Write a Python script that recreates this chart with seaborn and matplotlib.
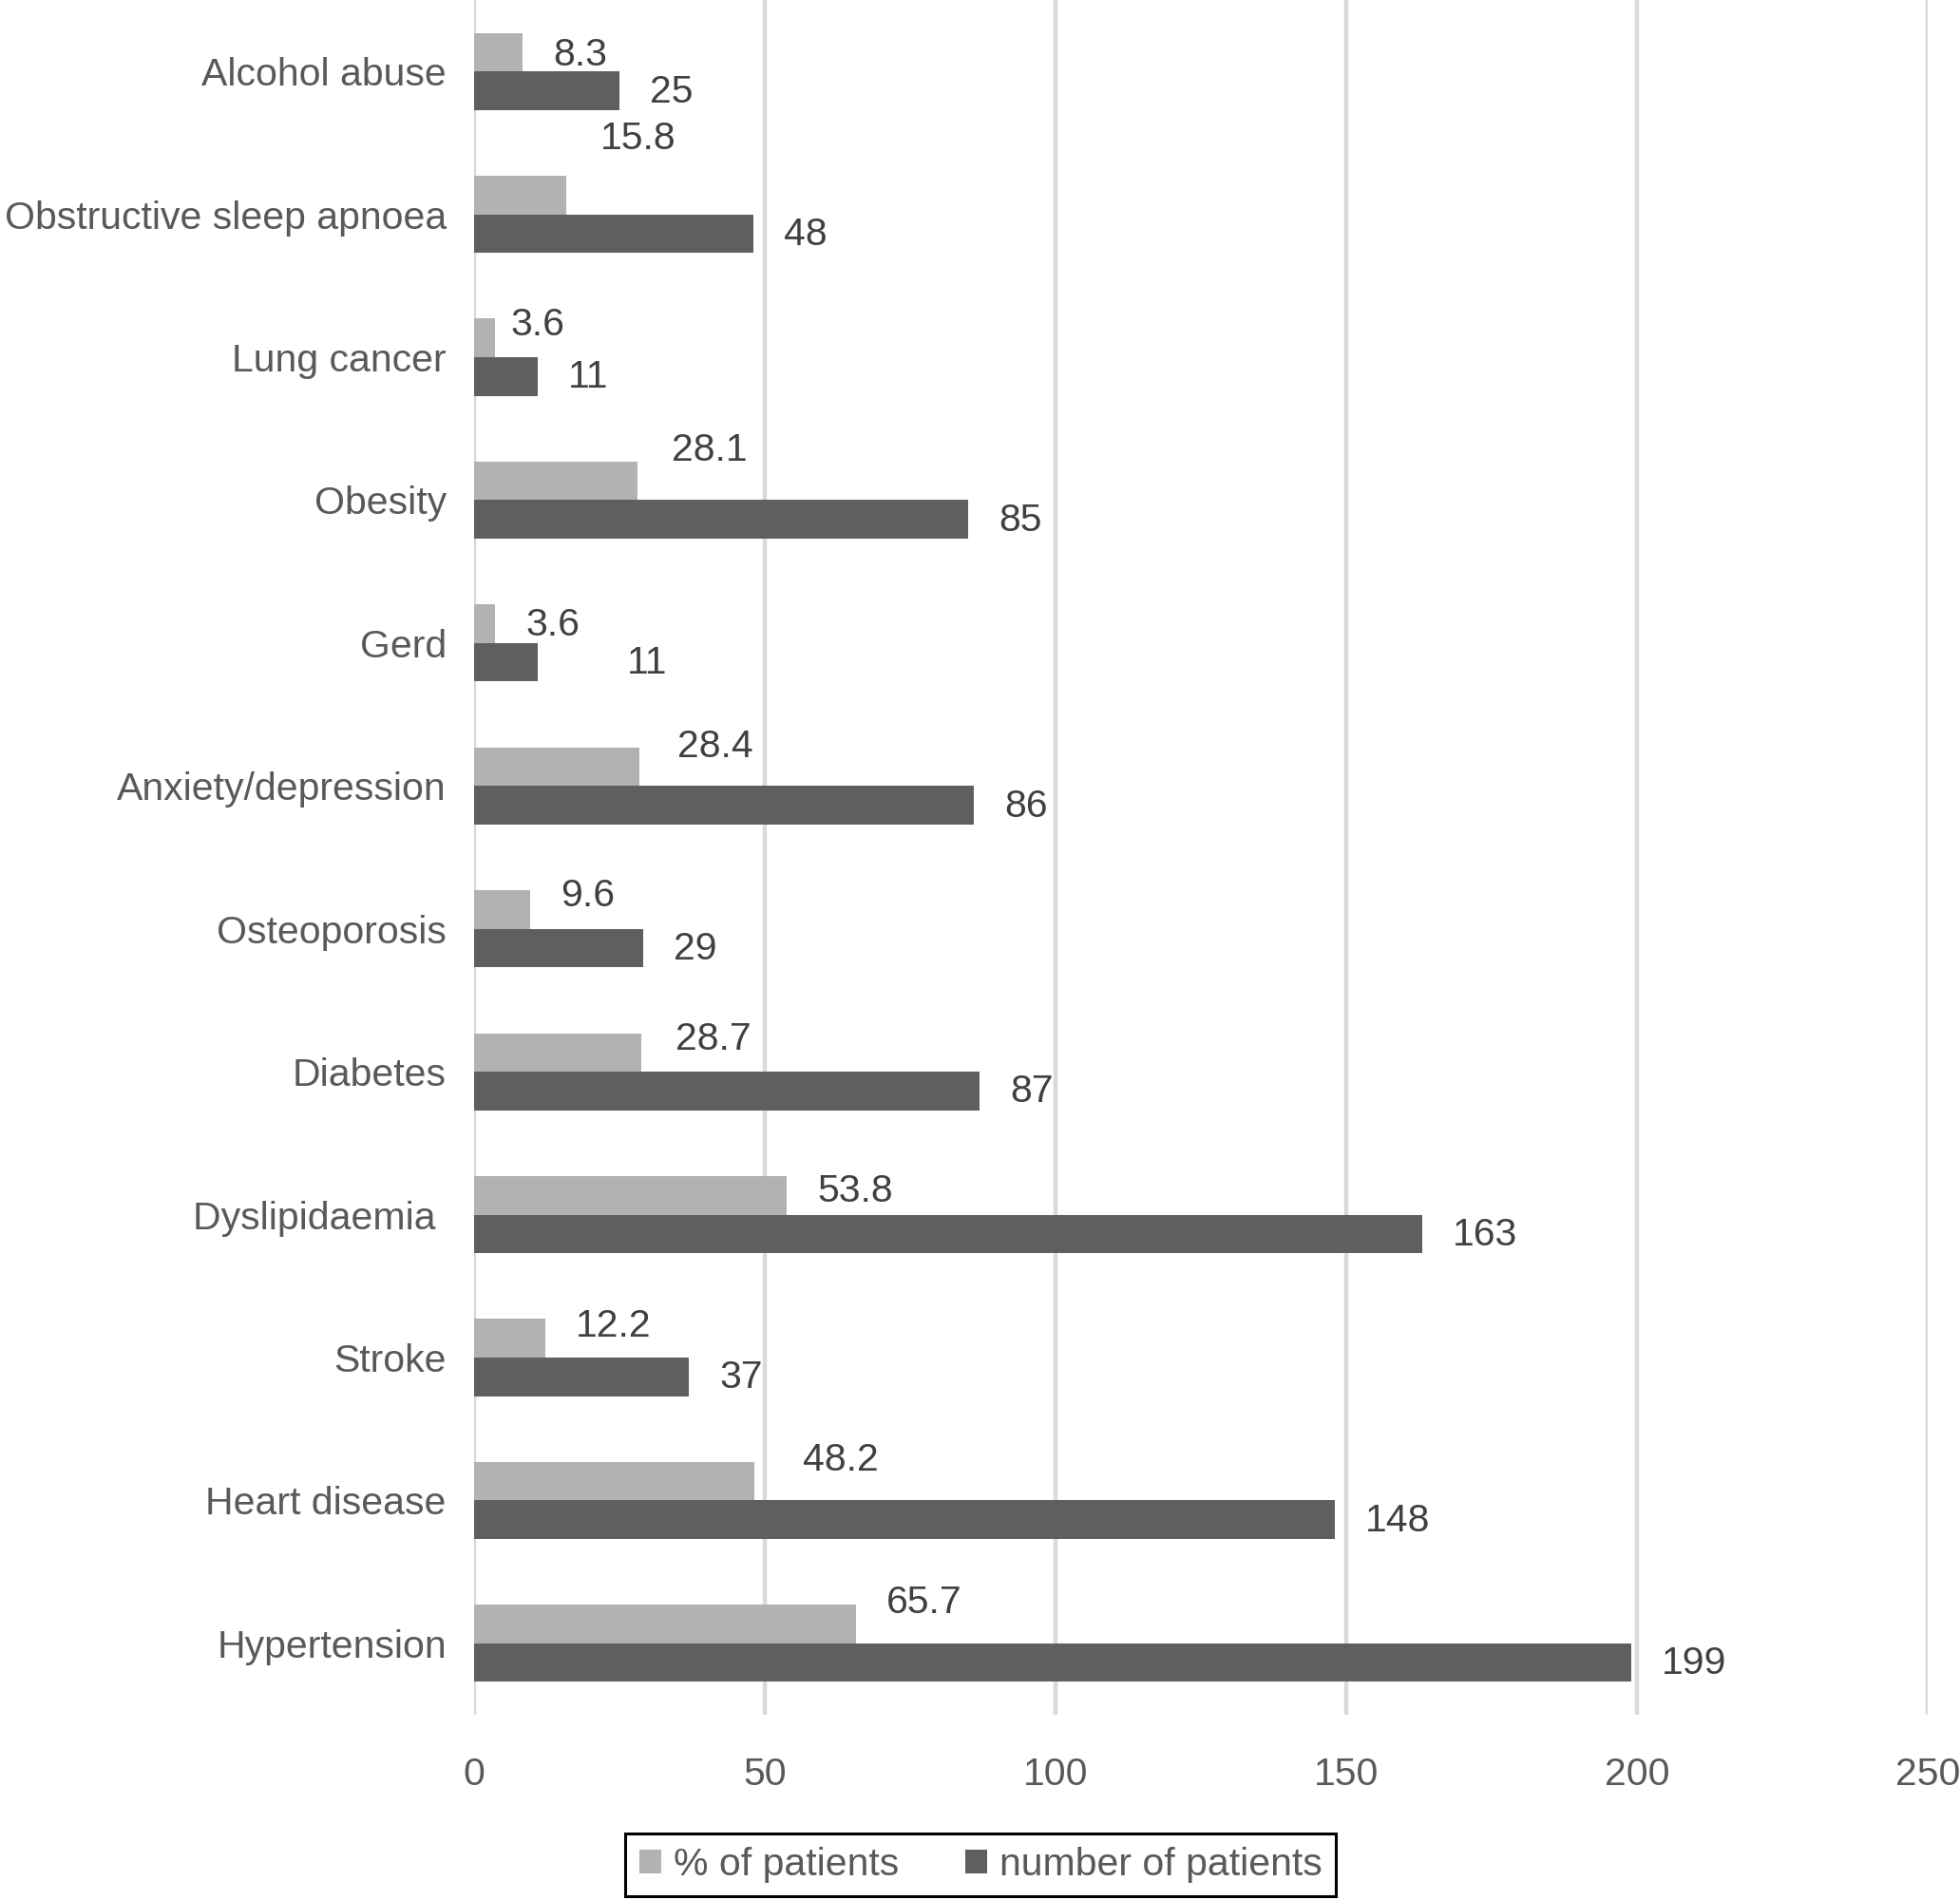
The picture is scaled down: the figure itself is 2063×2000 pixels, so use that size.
import pandas as pd
import matplotlib
matplotlib.use("Agg")
import matplotlib.pyplot as plt
import seaborn as sns

# ==================== data ====================
conditions = ['Alcohol abuse', 'Obstructive sleep apnoea', 'Lung cancer', 'Obesity',
              'Gerd', 'Anxiety/depression', 'Osteoporosis', 'Diabetes',
              'Dyslipidaemia ', 'Stroke', 'Heart disease', 'Hypertension']
pct_patients = [8.3, 15.8, 3.6, 28.1, 3.6, 28.4, 9.6, 28.7, 53.8, 12.2, 48.2, 65.7]
num_patients = [25, 48, 11, 85, 11, 86, 29, 87, 163, 37, 148, 199]
series_names = ['% of patients', 'number of patients']
x_ticks = [0, 50, 100, 150, 200, 250]

# label nudges (pixels) where the original labels were dragged by hand
label_nudge = {
    (0, 0): (0, -2), (0, 1): (4, 60), (0, 2): (-16, 15), (0, 3): (4, 33), (0, 5): (8, 22),
    (0, 6): (0, 15), (0, 7): (4, 15), (0, 8): (0, 5), (0, 9): (0, 14),
    (0, 10): (19, 23), (0, 11): (0, 23), (1, 4): (62, 0),
}

df = pd.DataFrame({
    'condition': conditions * 2,
    'value': pct_patients + num_patients,
    'series': [series_names[0]] * len(conditions) + [series_names[1]] * len(conditions),
})

# ==================== style ====================
sns.set_theme(style='white')
plt.rcParams['font.family'] = ['Liberation Sans', 'DejaVu Sans']

light = '#b2b2b2'
dark = '#5f5f5f'
fs = 29.5

fig = plt.figure(figsize=(20.63, 20.0), dpi=100)
ax = fig.add_axes([0.2419, 0.0975, 0.7416, 0.9025])

sns.barplot(data=df, x='value', y='condition', hue='series', hue_order=series_names,
            order=conditions, palette=[light, dark], width=0.54, orient='h',
            linewidth=0, saturation=1, ax=ax)

ax.set_xlim(0, 250)
ax.set_xticks(x_ticks)
ax.set_xlabel('')
ax.set_ylabel('')
ax.grid(axis='x', color='#d9d9d9', linewidth=3.2)
ax.grid(axis='y', visible=False)
ax.set_axisbelow(True)
sns.despine(ax=ax, left=True, bottom=True)
ax.tick_params(axis='x', length=0, pad=32, labelsize=fs, labelcolor='#595959')
ax.tick_params(axis='y', length=0, pad=21, labelsize=fs, labelcolor='#595959')

# ==================== value labels ====================
for s, cont in enumerate(ax.containers):
    for i, bar in enumerate(cont):
        val = pct_patients[i] if s == 0 else num_patients[i]
        txt = f'{val:.1f}' if s == 0 else f'{val:d}'
        dx, dy = label_nudge.get((s, i), (0, 0))
        ax.annotate(txt, (bar.get_width(), bar.get_y() + bar.get_height() / 2),
                    xytext=(32 + dx, dy - 1), textcoords='offset pixels',
                    ha='left', va='center', fontsize=fs, color='#404040')

# ==================== legend ====================
handles, labels = ax.get_legend_handles_labels()
if ax.get_legend() is not None:
    ax.get_legend().remove()
leg = fig.legend(handles, labels, loc='center', bbox_to_anchor=(0.5003, 0.0185),
                 ncol=2, fontsize=fs, frameon=True, fancybox=False, framealpha=1,
                 edgecolor='black', handlelength=0.56, handleheight=0.56,
                 handletextpad=0.32, columnspacing=1.7, borderpad=0.35,
                 borderaxespad=0)
leg.get_frame().set_linewidth(2.2)
for t in leg.get_texts():
    t.set_color('#595959')

fig.savefig('out.png', dpi=100)
